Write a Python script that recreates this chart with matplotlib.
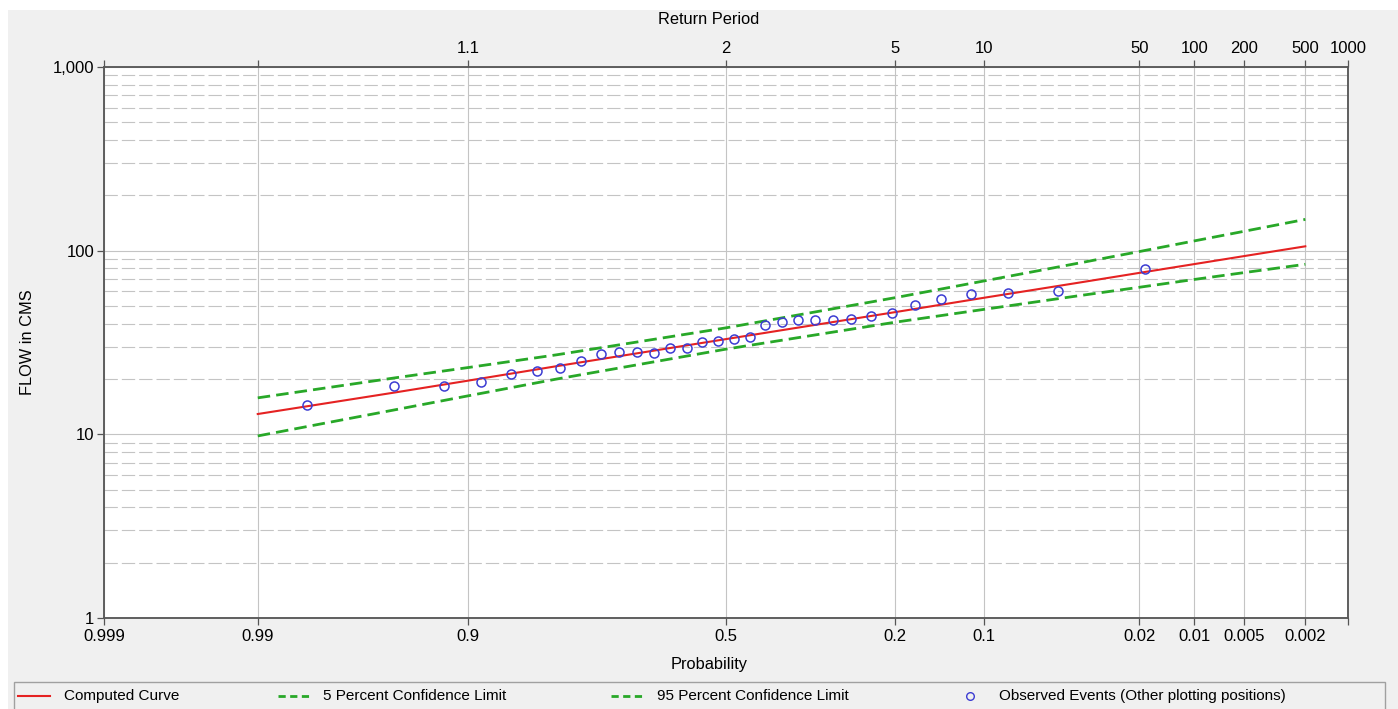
import numpy as np
import matplotlib
matplotlib.use("Agg")
import matplotlib.pyplot as plt
from matplotlib.patches import Rectangle
from matplotlib.lines import Line2D
from matplotlib.ticker import NullFormatter, NullLocator
from statistics import NormalDist

# exceedance probabilities used for the fitted curve and confidence limits
curve_prob = [0.99, 0.95, 0.9, 0.8, 0.5, 0.2, 0.1, 0.04, 0.02, 0.01, 0.005, 0.002]
flow_computed = [12.9, 16.9, 19.6, 23.5, 33.0, 46.3, 55.4, 66.9, 75.7, 84.5, 93.5, 105.6]
flow_conf_05 = [15.8, 20.3, 23.1, 27.1, 38.0, 55.5, 68.4, 85.5, 98.9, 113.0, 127.6, 148.0]
flow_conf_95 = [9.8, 13.6, 16.2, 20.0, 29.1, 40.8, 47.9, 56.8, 63.2, 69.7, 76.0, 84.3]

# observed events
obs_prob = [0.9814, 0.9503, 0.9193, 0.8882, 0.8571, 0.8261, 0.7950, 0.7640,
            0.7329, 0.7019, 0.6708, 0.6398, 0.6087, 0.5776, 0.5466, 0.5155,
            0.4845, 0.4534, 0.4224, 0.3913, 0.3602, 0.3292, 0.2981, 0.2671,
            0.2360, 0.2050, 0.1739, 0.1429, 0.1118, 0.0807, 0.0497, 0.0186]
obs_flow = [14.4, 18.3, 18.4, 19.2, 21.4, 22.1, 22.9, 25.1,
            27.5, 27.9, 27.9, 27.7, 29.5, 29.5, 32.0, 32.4,
            33.2, 33.9, 39.6, 41.1, 41.8, 41.8, 41.8, 42.3,
            44.1, 46.0, 50.4, 54.8, 58.1, 58.8, 60.3, 79.5]

# axis ticks
prob_ticks = [0.999, 0.99, 0.9, 0.5, 0.2, 0.1, 0.02, 0.01, 0.005, 0.002, 0.001]
prob_labels = ["0.999", "0.99", "0.9", "0.5", "0.2", "0.1", "0.02", "0.01", "0.005", "0.002", ""]
period_labels = ["", "", "1.1", "2", "5", "10", "50", "100", "200", "500", "1000"]
flow_ticks = [1, 10, 100, 1000]
flow_labels = ["1", "10", "100", "1,000"]

nd = NormalDist()


def prob_to_z(p):
    # normal probability scale: exceedance probability -> standard normal deviate
    p = np.clip(np.asarray(p, dtype=float), 1e-12, 1 - 1e-12)
    return np.vectorize(nd.inv_cdf, otypes=[float])(p)


def z_to_prob(z):
    return np.vectorize(nd.cdf, otypes=[float])(np.asarray(z, dtype=float))


plt.rcParams["font.family"] = ["Liberation Sans", "DejaVu Sans"]

W, H = 1398, 709
fig = plt.figure(figsize=(W / 100, H / 100), dpi=100, facecolor="white")
# gray window background (white strip on top/left as in the screenshot)
fig.add_artist(Rectangle((8 / W, 0), 1, (H - 10) / H, transform=fig.transFigure,
                         facecolor="#f0f0f0", edgecolor="none", zorder=-5))

left, right, top, bottom = 104, 1348, 67, 618
ax = fig.add_axes([left / W, 1 - bottom / H, (right - left) / W, (bottom - top) / H])
ax.set_facecolor("white")

ax.set_xscale("function", functions=(prob_to_z, z_to_prob))
ax.set_xlim(0.999, 0.001)
ax.set_yscale("log")
ax.set_ylim(1, 1000)

grid_col = "#c4c4c4"
ax.set_xticks(prob_ticks, prob_labels)
ax.xaxis.set_minor_locator(NullLocator())
ax.set_yticks(flow_ticks, flow_labels)
ax.yaxis.set_minor_formatter(NullFormatter())
ax.grid(True, axis="x", which="major", color=grid_col, lw=0.8)
ax.grid(True, axis="y", which="major", color=grid_col, lw=0.8)
ax.grid(True, axis="y", which="minor", color=grid_col, lw=0.8, linestyle=(0, (12, 3.6)))
ax.tick_params(axis="y", which="minor", length=0)
ax.tick_params(which="major", direction="out", length=5, width=0.9, color="#555555",
               labelsize=12, pad=3)
ax.tick_params(axis="y", pad=2)
ax.set_axisbelow(True)

ax.plot(curve_prob, flow_computed, color="#e52222", lw=1.5, zorder=3)
ax.plot(curve_prob, flow_conf_05, color="#28a828", lw=2.0, dashes=(4.5, 2.2), zorder=3)
ax.plot(curve_prob, flow_conf_95, color="#28a828", lw=2.0, dashes=(4.5, 2.2), zorder=3)
ax.plot(obs_prob, obs_flow, "o", mfc="none", mec="#3c3cd2", ms=6.5, mew=1.1, zorder=4)

for s in ax.spines.values():
    s.set_color("#5a5a5a")
    s.set_linewidth(1.1)

# return period axis on top
ax2 = ax.twiny()
ax2.set_xscale("function", functions=(prob_to_z, z_to_prob))
ax2.set_xlim(0.999, 0.001)
ax2.set_xticks(prob_ticks, period_labels)
ax2.xaxis.set_minor_locator(NullLocator())
ax2.tick_params(direction="out", length=5, width=0.9, color="#555555", labelsize=12, pad=3)
for s in ax2.spines.values():
    s.set_color("#5a5a5a")
    s.set_linewidth(1.1)

fig.text(709 / W, 1 - 20 / H, "Return Period", ha="center", va="center", fontsize=11.8)
fig.text(709 / W, 1 - 665 / H, "Probability", ha="center", va="center", fontsize=11.8)
fig.text(27 / W, 1 - 342 / H, "FLOW in CMS", ha="center", va="center", rotation=90, fontsize=11.8)

# legend strip along the bottom
ly = 1 - 696 / H
fig.add_artist(Rectangle((14 / W, -0.02), (1385 - 14) / W, (709 - 682) / H + 0.02,
                         transform=fig.transFigure, facecolor="#f0f0f0",
                         edgecolor="#a0a0a0", lw=1.0, zorder=1))
fig.add_artist(Line2D([18 / W, 50 / W], [ly, ly], color="#e52222", lw=1.5, zorder=2))
fig.add_artist(Line2D([278 / W, 312 / W], [ly, ly], color="#28a828", lw=2.0,
                      dashes=(2.6, 1.6), zorder=2))
fig.add_artist(Line2D([611 / W, 645 / W], [ly, ly], color="#28a828", lw=2.0,
                      dashes=(2.6, 1.6), zorder=2))
fig.add_artist(Line2D([970 / W], [ly], marker="o", mfc="none", mec="#3c3cd2",
                      ms=5.5, mew=1.0, zorder=2))
legend_items = [(64, "Computed Curve"), (323, "5 Percent Confidence Limit"),
                (657, "95 Percent Confidence Limit"),
                (999, "Observed Events (Other plotting positions)")]
for x, txt in legend_items:
    fig.text(x / W, ly, txt, ha="left", va="center", fontsize=11, zorder=2)

fig.savefig("out.png", dpi=100, facecolor=fig.get_facecolor())
